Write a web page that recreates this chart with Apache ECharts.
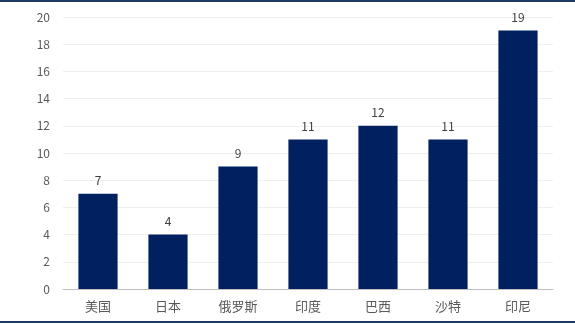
<!DOCTYPE html>
<html><head><meta charset="utf-8">
<script src="https://cdn.jsdelivr.net/npm/echarts@6/dist/echarts.min.js"></script>
<style>html,body{margin:0;padding:0;background:#fff}#c{width:575px;height:324px}</style>
</head><body><div id="c"></div>
<script>
const categories = ['美国','日本','俄罗斯','印度','巴西','沙特','印尼'];
const values = [7,4,9,11,12,11,19];
const yMin = 0, yMax = 20, yInterval = 2;
const font = '"Noto Sans CJK SC", "Microsoft YaHei", sans-serif';
const chart = echarts.init(document.getElementById('c'));
chart.setOption({
  animation: false,
  backgroundColor: '#fff',
  grid: {left: 63, right: 22, top: 17, bottom: 35, containLabel: false},
  xAxis: {
    type: 'category', data: categories,
    axisLine: {lineStyle: {color: '#bfbfbf', width: 1}},
    axisTick: {show: false},
    axisLabel: {color: '#595959', fontSize: 13, fontFamily: font, margin: 11}
  },
  yAxis: {
    type: 'value', min: yMin, max: yMax, interval: yInterval,
    axisLine: {show: false}, axisTick: {show: false},
    axisLabel: {color: '#595959', fontSize: 12, fontFamily: font, margin: 13},
    splitLine: {lineStyle: {color: '#efefef', width: 1}}
  },
  series: [{
    type: 'bar', data: values, barWidth: '56%',
    itemStyle: {color: '#002060'},
    label: {show: true, position: 'top', color: '#404040', fontSize: 12, fontFamily: font, distance: 7}
  }],
  graphic: [
    {type: 'line', shape: {x1: 0, y1: 1, x2: 575, y2: 1}, style: {stroke: '#1f3864', lineWidth: 2}},
    {type: 'line', shape: {x1: 0, y1: 322, x2: 575, y2: 322}, style: {stroke: '#1f3864', lineWidth: 2}}
  ]
});
</script></body></html>
